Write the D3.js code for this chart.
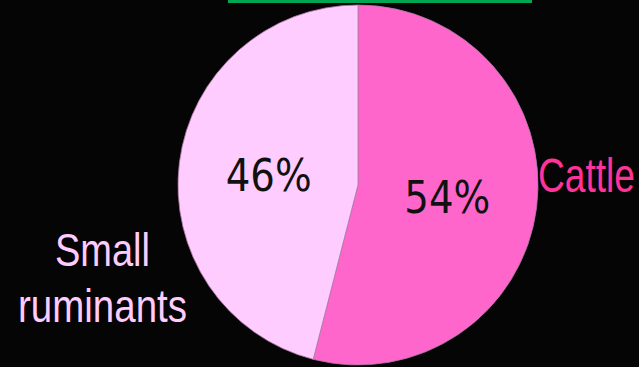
<!DOCTYPE html>
<html>
<head>
<meta charset="utf-8">
<script src="https://cdn.jsdelivr.net/npm/d3@7/dist/d3.min.js"></script>
<style>
  html, body { margin: 0; padding: 0; background: #050505; }
  svg { display: block; }
</style>
</head>
<body>
<svg id="chart" width="639" height="367"></svg>
<script>
// Share of livestock by type
const categories = ["Cattle", "Small ruminants"];
const shares = [54, 46];
const sliceColors = ["#FF66CC", "#FFCCFF"];
const labelColors = ["#FF3399", "#FFCCFF"];

const width = 639, height = 367;
const cx = 358, cy = 185, radius = 180;

const svg = d3.select("#chart");

svg.append("rect").attr("width", width).attr("height", height).attr("fill", "#050505");

// title underline
svg.append("rect")
  .attr("x", 228).attr("y", 0).attr("width", 304).attr("height", 3)
  .attr("fill", "#00A651");

const data = categories.map((c, i) => ({ name: c, value: shares[i], color: sliceColors[i] }));

const pie = d3.pie().value(d => d.value).sort(null);
const arc = d3.arc().innerRadius(0).outerRadius(radius);
const arcs = pie(data);

const g = svg.append("g").attr("transform", `translate(${cx},${cy})`);

g.selectAll("path")
  .data(arcs)
  .enter().append("path")
  .attr("d", arc)
  .attr("fill", d => d.data.color)
  .attr("stroke", "#B07AA8")
  .attr("stroke-width", 0.8);

// percentage labels inside slices
const labelArc = d3.arc().innerRadius(90).outerRadius(90);
g.selectAll("text.pct")
  .data(arcs)
  .enter().append("text")
  .attr("class", "pct")
  .attr("x", d => labelArc.centroid(d)[0] - 43)
  .attr("y", d => labelArc.centroid(d)[1] + 17)
  .attr("textLength", 86)
  .attr("lengthAdjust", "spacingAndGlyphs")
  .attr("font-family", "'DejaVu Sans', sans-serif")
  .attr("font-size", 45)
  .attr("fill", "#111")
  .text(d => d.data.value + "%");

// category labels
const labelFont = "'Liberation Sans', Arial, sans-serif";
svg.append("text")
  .attr("x", 538).attr("y", 192)
  .attr("textLength", 97)
  .attr("lengthAdjust", "spacingAndGlyphs")
  .attr("font-family", labelFont)
  .attr("font-size", 48)
  .attr("fill", labelColors[0])
  .text(categories[0]);

const words = categories[1].split(" ");
svg.append("text")
  .attr("x", 55).attr("y", 266)
  .attr("textLength", 95)
  .attr("lengthAdjust", "spacingAndGlyphs")
  .attr("font-family", labelFont)
  .attr("font-size", 46)
  .attr("fill", labelColors[1])
  .text(words[0]);
svg.append("text")
  .attr("x", 18).attr("y", 322)
  .attr("textLength", 169)
  .attr("lengthAdjust", "spacingAndGlyphs")
  .attr("font-family", labelFont)
  .attr("font-size", 46)
  .attr("fill", labelColors[1])
  .text(words[1]);
</script>
</body>
</html>
